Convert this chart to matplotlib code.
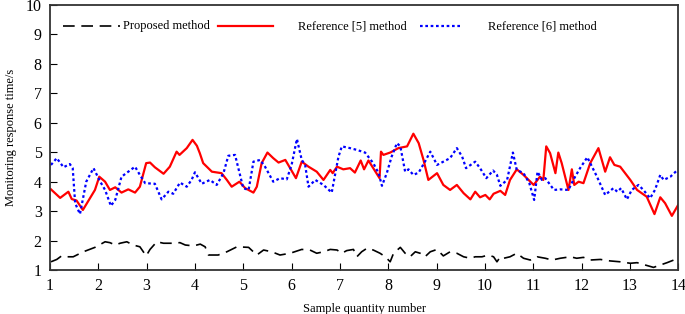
import matplotlib
matplotlib.use("Agg")
import matplotlib.pyplot as plt

# ---- data ----
proposed_x = [1.02, 1.14, 1.24, 1.35, 1.48, 1.69, 1.93, 2.14, 2.24, 2.35, 2.45, 2.59, 2.72, 2.86, 2.99,
              3.07, 3.21, 3.35, 3.52, 3.69, 3.80, 3.97, 4.11, 4.21, 4.28, 4.48, 4.66, 4.87, 5.11, 5.28,
              5.42, 5.59, 5.76, 5.97, 6.21, 6.38, 6.52, 6.66, 6.80, 6.94, 7.04, 7.14, 7.28, 7.35, 7.45,
              7.56, 7.69, 7.83, 7.94, 8.04, 8.11, 8.25, 8.35, 8.45, 8.56, 8.66, 8.76, 8.87, 9.01, 9.14,
              9.28, 9.42, 9.56, 9.70, 9.80, 9.94, 10.07, 10.18, 10.25, 10.32, 10.39, 10.52, 10.66, 10.80,
              10.94, 11.08, 11.25, 11.39, 11.56, 11.77, 11.90, 12.04, 12.18, 12.39, 12.59, 12.80, 13.01,
              13.15, 13.32, 13.49, 13.63, 13.77, 13.91]
proposed_y = [1.28, 1.36, 1.48, 1.45, 1.45, 1.62, 1.77, 1.96, 1.93, 1.85, 1.91, 1.96, 1.85, 1.79, 1.48,
              1.70, 1.96, 1.91, 1.91, 1.93, 1.85, 1.82, 1.88, 1.79, 1.51, 1.51, 1.62, 1.79, 1.77, 1.51,
              1.68, 1.62, 1.51, 1.57, 1.70, 1.68, 1.57, 1.62, 1.70, 1.68, 1.57, 1.66, 1.70, 1.45, 1.62,
              1.74, 1.68, 1.57, 1.45, 1.28, 1.57, 1.77, 1.57, 1.45, 1.62, 1.57, 1.45, 1.62, 1.70, 1.48,
              1.62, 1.57, 1.45, 1.40, 1.45, 1.45, 1.51, 1.45, 1.28, 1.45, 1.40, 1.45, 1.57, 1.40,
              1.34, 1.45, 1.40, 1.34, 1.40, 1.45, 1.40, 1.43, 1.34, 1.36, 1.31, 1.28, 1.23,
              1.25, 1.17, 1.09, 1.17, 1.25, 1.34]

ref5_x = [1.02, 1.21, 1.38, 1.45, 1.55, 1.68, 1.93, 2.02, 2.14, 2.24, 2.35, 2.48, 2.62, 2.76, 2.86,
          2.99, 3.07, 3.17, 3.35, 3.48, 3.62, 3.68, 3.83, 3.95, 4.04, 4.10, 4.17, 4.35, 4.55, 4.66,
          4.76, 4.92, 5.04, 5.21, 5.28, 5.38, 5.50, 5.62, 5.73, 5.87, 5.97, 6.09, 6.21, 6.35, 6.52,
          6.66, 6.80, 6.85, 6.94, 7.07, 7.21, 7.31, 7.43, 7.50, 7.59, 7.69, 7.82, 7.85, 7.90, 8.04,
          8.21, 8.39, 8.52, 8.63, 8.73, 8.83, 9.01, 9.14, 9.28, 9.42, 9.56, 9.70, 9.80, 9.90, 10.01,
          10.10, 10.18, 10.32, 10.42, 10.52, 10.66, 10.80, 11.01, 11.14, 11.21, 11.27, 11.35, 11.46,
          11.52, 11.59, 11.73, 11.80, 11.85, 11.94, 12.04, 12.18, 12.35, 12.49, 12.59, 12.68, 12.80,
          13.01, 13.15, 13.35, 13.51, 13.63, 13.73, 13.87, 14.0]
ref5_y = [3.74, 3.45, 3.66, 3.41, 3.36, 3.04, 3.72, 4.17, 4.00, 3.72, 3.81, 3.63, 3.74, 3.63, 3.83,
          4.63, 4.65, 4.49, 4.27, 4.51, 5.02, 4.91, 5.14, 5.42, 5.22, 4.97, 4.63, 4.34, 4.29, 4.06,
          3.83, 4.00, 3.78, 3.63, 3.83, 4.63, 4.99, 4.80, 4.65, 4.74, 4.46, 4.12, 4.68, 4.51, 4.34,
          4.06, 4.40, 4.29, 4.51, 4.42, 4.46, 4.31, 4.72, 4.42, 4.72, 4.46, 4.12, 5.02, 4.91, 4.99,
          5.14, 5.20, 5.63, 5.31, 4.74, 4.06, 4.29, 3.89, 3.72, 3.89, 3.61, 3.40, 3.66, 3.47, 3.55,
          3.40, 3.59, 3.69, 3.55, 4.06, 4.42, 4.23, 3.89, 4.17, 4.06, 5.20, 4.97, 4.29,
          4.99, 4.63, 3.72, 4.42, 3.89, 4.00, 3.95, 4.63, 5.14, 4.34, 4.83, 4.57, 4.51,
          4.06, 3.72, 3.49, 2.90, 3.47, 3.27, 2.84, 3.21]

ref6_x = [1.02, 1.14, 1.28, 1.41, 1.47, 1.52, 1.62, 1.75, 1.90, 2.04, 2.14, 2.26, 2.35, 2.48, 2.62,
          2.76, 2.86, 2.97, 3.17, 3.31, 3.45, 3.55, 3.69, 3.83, 3.93, 4.00, 4.14, 4.31, 4.45, 4.59,
          4.69, 4.83, 5.00, 5.11, 5.21, 5.35, 5.45, 5.62, 5.76, 5.90, 6.00, 6.11, 6.21, 6.28, 6.35,
          6.49, 6.66, 6.83, 6.97, 7.04, 7.21, 7.35, 7.52, 7.69, 7.80, 7.87, 7.97, 8.07, 8.18, 8.25,
          8.35, 8.42, 8.52, 8.63, 8.76, 8.87, 9.01, 9.14, 9.28, 9.42, 9.53, 9.61, 9.80, 9.90, 10.03,
          10.17, 10.25, 10.32, 10.46, 10.58, 10.66, 10.80, 10.92, 11.02, 11.09, 11.18, 11.25, 11.43,
          11.56, 11.73, 11.83, 11.97, 12.12, 12.32, 12.49, 12.66, 12.74, 12.82, 12.94, 13.04, 13.18,
          13.28, 13.42, 13.52, 13.63, 13.70, 13.84, 14.0]
ref6_y = [4.57, 4.80, 4.49, 4.60, 4.46, 3.27, 2.90, 4.00, 4.46, 4.00, 3.72, 3.18, 3.38, 4.17, 4.34,
          4.51, 4.23, 3.95, 3.93, 3.40, 3.66, 3.59, 3.97, 3.83, 4.06, 4.32, 3.93, 4.06, 3.89, 4.29,
          4.88, 4.91, 3.78, 3.72, 4.68, 4.74, 4.51, 4.00, 4.12, 4.08, 4.57, 5.45, 4.74, 4.57, 3.83,
          4.06, 3.89, 3.63, 4.85, 5.20, 5.14, 5.08, 4.99, 4.63, 4.29, 3.86, 4.29, 4.85, 5.31, 5.20,
          4.34, 4.42, 4.23, 4.31, 4.68, 5.02, 4.57, 4.68, 4.80, 5.14, 4.85, 4.46, 4.68, 4.46, 4.12,
          4.38, 4.23, 3.86, 4.06, 4.99, 4.40, 4.29, 3.95, 3.38, 4.34, 4.06, 4.12, 3.72,
          3.74, 3.72, 4.06, 4.46, 4.83, 4.17, 3.55, 3.78, 3.66, 3.78, 3.40, 3.72, 3.89,
          3.72, 3.44, 3.72, 4.23, 4.06, 4.17, 4.42]

x_ticks = list(range(1, 15))
y_ticks = list(range(1, 11))
labels = ["Proposed method", "Reference [5] method", "Reference [6] method"]

# ---- plot ----
plt.rcParams['font.family'] = ['Liberation Serif', 'DejaVu Serif']
fig = plt.figure(figsize=(6.85, 3.14), dpi=100)
ax = fig.add_axes([0.073, 0.14, 0.917, 0.844])

ax.plot(proposed_x, proposed_y, color='black', lw=1.2, dashes=(7, 4))
ax.plot(ref5_x, ref5_y, color='#ff0000', lw=1.6)
ax.plot(ref6_x, ref6_y, color='#0000ff', lw=1.6, dashes=(1.2, 1.2))

ax.set_xlim(1, 14)
ax.set_ylim(1, 10)
ax.set_xticks(x_ticks)
ax.set_yticks(y_ticks)
ax.tick_params(direction='in', length=5, width=0.8, labelsize=11.5, pad=6,
               top=False, right=False)
for s in ax.spines.values():
    s.set_linewidth(1.3)
    s.set_color('#333333')

ax.set_xlabel("Sample quantity number", fontsize=9, labelpad=6)
ax.set_ylabel("Monitoring response time/s", fontsize=9, labelpad=6)

# manual legend
ly = 0.92
handles = [
    ((0.021, 0.111), 0.116, dict(color='black', lw=1.2, dashes=(7, 4))),
    ((0.268, 0.355), 0.395, dict(color='#ff0000', lw=1.6)),
    ((0.589, 0.654), 0.697, dict(color='#0000ff', lw=1.6, dashes=(1.2, 1.2))),
]
for (hx, tx, st), lab in zip(handles, labels):
    ax.plot(list(hx), [ly, ly], transform=ax.transAxes, clip_on=False, **st)
    ax.text(tx, ly, lab, transform=ax.transAxes, fontsize=9, va='center', ha='left')

fig.savefig("out.png", dpi=100)
